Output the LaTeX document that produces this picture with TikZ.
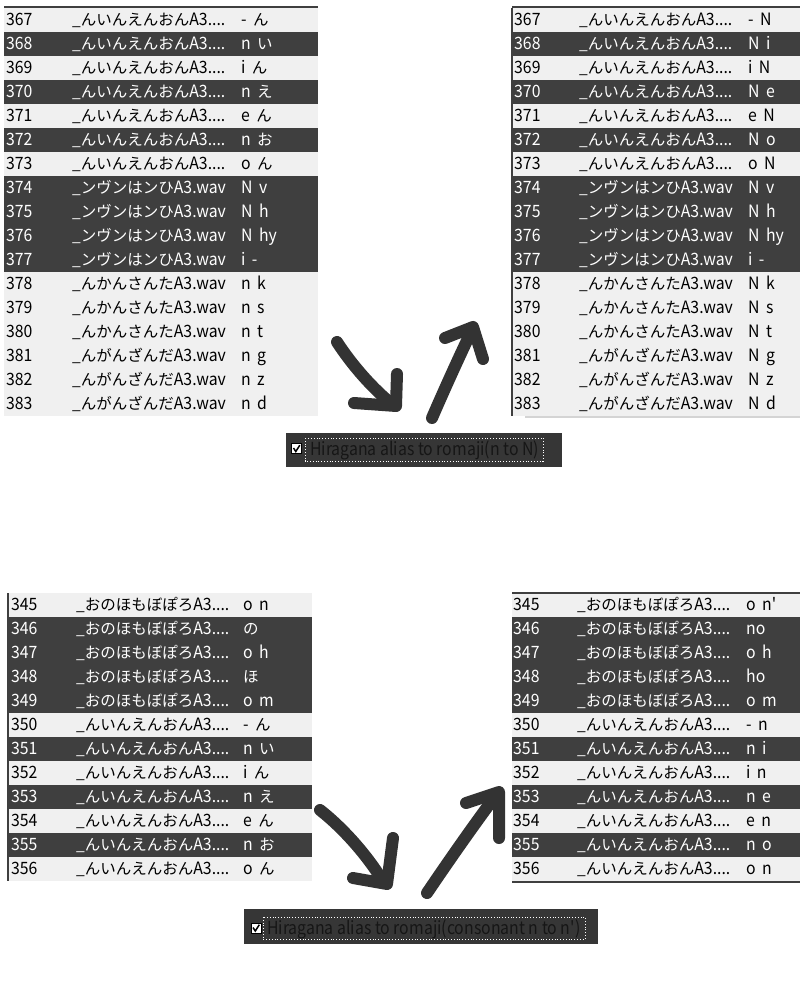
\documentclass[tikz,border=0pt]{standalone}
\usepackage{fontspec}
\setmainfont{Noto Sans CJK JP}
\newfontfamily\latnfont[FakeStretch=0.93,WordSpace=1.8]{Noto Sans CJK JP}
\newfontfamily\cbfont[FakeStretch=0.88]{Noto Sans CJK JP}
\newfontfamily\jpfont{Noto Sans CJK JP}
\newcommand\jp{\jpfont\fontsize{15.5}{16}\selectfont}
\newcommand\fnA{{\jp\_んいんえんおん}A3....}
\newcommand\fnB{{\jp\_ンヴンはンひ}A3.wav}
\newcommand\fnC{{\jp\_んかんさんた}A3.wav}
\newcommand\fnD{{\jp\_んがんざんだ}A3.wav}
\newcommand\fnE{{\jp\_おのほもぼぽろ}A3....}
\definecolor{darkrow}{HTML}{3F3F3F}
\definecolor{lightrow}{HTML}{F0F0F0}
\definecolor{arrowcol}{HTML}{333333}
\definecolor{cbbgcol}{HTML}{363636}
\definecolor{cbtext}{HTML}{161616}
\definecolor{lightline}{HTML}{D4D4D4}
\tikzset{
  rowD/.style={fill=darkrow},
  rowL/.style={fill=lightrow},
  cellbase/.style={inner sep=0pt,anchor=west,font=\latnfont\fontsize{17}{18}\selectfont,text height=12.5pt,text depth=1.5pt},
  cellD/.style={cellbase,text=white},
  cellL/.style={cellbase,text=black},
  stroke/.style={draw=arrowcol,line width=12pt,line cap=round,line join=round},
  cbbg/.style={fill=cbbgcol,draw=none,inner sep=0pt},
  cbox/.style={fill=white,draw=black,line width=0.8pt},
  focus/.style={draw=white,dotted,line width=0.8pt},
  cblabel/.style={text=cbtext,inner sep=0pt,anchor=base west,font=\cbfont\fontsize{18}{18}\selectfont},
}
\newcommand\trow[6]{%
  \pgfmathsetmacro\yt{\Ytop+24*#2}%
  \fill[row#3] (\Xa,\yt) rectangle (\Xb,\yt+24);
  \node[cell#3] (#1n#4) at (\Nx,\yt+12) {#4};
  \node[cell#3] (#1f#4) at (\Fx,\yt+12) {#5};
  \node[cell#3] (#1a#4) at (\Ax,\yt+12) {#6};
}
\begin{document}
\begin{tikzpicture}[x=1pt,y=-1pt]
\useasboundingbox (0,0) rectangle (800,1000);
\fill[white] (0,0) rectangle (800,1000);

% ---------- top left table ----------
\def\Ytop{8}\def\Xa{4}\def\Xb{318}\def\Nx{6}\def\Fx{72}\def\Ax{241}
\trow{tl}{0}{L}{367}{\fnA}{- {\jp ん}}
\trow{tl}{1}{D}{368}{\fnA}{n {\jp い}}
\trow{tl}{2}{L}{369}{\fnA}{i {\jp ん}}
\trow{tl}{3}{D}{370}{\fnA}{n {\jp え}}
\trow{tl}{4}{L}{371}{\fnA}{e {\jp ん}}
\trow{tl}{5}{D}{372}{\fnA}{n {\jp お}}
\trow{tl}{6}{L}{373}{\fnA}{o {\jp ん}}
\trow{tl}{7}{D}{374}{\fnB}{N v}
\trow{tl}{8}{D}{375}{\fnB}{N h}
\trow{tl}{9}{D}{376}{\fnB}{N hy}
\trow{tl}{10}{D}{377}{\fnB}{i -}
\trow{tl}{11}{L}{378}{\fnC}{n k}
\trow{tl}{12}{L}{379}{\fnC}{n s}
\trow{tl}{13}{L}{380}{\fnC}{n t}
\trow{tl}{14}{L}{381}{\fnD}{n g}
\trow{tl}{15}{L}{382}{\fnD}{n z}
\trow{tl}{16}{L}{383}{\fnD}{n d}
\fill[darkrow] (4,6) rectangle (318,8);

% ---------- top right table ----------
\def\Ytop{8}\def\Xa{512}\def\Xb{800}\def\Nx{514}\def\Fx{579}\def\Ax{748}
\trow{tr}{0}{L}{367}{\fnA}{- N}
\trow{tr}{1}{D}{368}{\fnA}{N i}
\trow{tr}{2}{L}{369}{\fnA}{i N}
\trow{tr}{3}{D}{370}{\fnA}{N e}
\trow{tr}{4}{L}{371}{\fnA}{e N}
\trow{tr}{5}{D}{372}{\fnA}{N o}
\trow{tr}{6}{L}{373}{\fnA}{o N}
\trow{tr}{7}{D}{374}{\fnB}{N v}
\trow{tr}{8}{D}{375}{\fnB}{N h}
\trow{tr}{9}{D}{376}{\fnB}{N hy}
\trow{tr}{10}{D}{377}{\fnB}{i -}
\trow{tr}{11}{L}{378}{\fnC}{N k}
\trow{tr}{12}{L}{379}{\fnC}{N s}
\trow{tr}{13}{L}{380}{\fnC}{N t}
\trow{tr}{14}{L}{381}{\fnD}{N g}
\trow{tr}{15}{L}{382}{\fnD}{N z}
\trow{tr}{16}{L}{383}{\fnD}{N d}
\fill[darkrow] (512,6) rectangle (800,8);
\fill[darkrow] (511,8) rectangle (513,416);
\fill[lightline] (525,416) rectangle (800,418);

% ---------- bottom left table ----------
\def\Ytop{593}\def\Xa{8}\def\Xb{312}\def\Nx{11}\def\Fx{76}\def\Ax{243}
\trow{bl}{0}{L}{345}{\fnE}{o n}
\trow{bl}{1}{D}{346}{\fnE}{{\jp の}}
\trow{bl}{2}{D}{347}{\fnE}{o h}
\trow{bl}{3}{D}{348}{\fnE}{{\jp ほ}}
\trow{bl}{4}{D}{349}{\fnE}{o m}
\trow{bl}{5}{L}{350}{\fnA}{- {\jp ん}}
\trow{bl}{6}{D}{351}{\fnA}{n {\jp い}}
\trow{bl}{7}{L}{352}{\fnA}{i {\jp ん}}
\trow{bl}{8}{D}{353}{\fnA}{n {\jp え}}
\trow{bl}{9}{L}{354}{\fnA}{e {\jp ん}}
\trow{bl}{10}{D}{355}{\fnA}{n {\jp お}}
\trow{bl}{11}{L}{356}{\fnA}{o {\jp ん}}
\fill[darkrow] (7,593) rectangle (9,881);

% ---------- bottom right table ----------
\def\Ytop{593}\def\Xa{512}\def\Xb{800}\def\Nx{513}\def\Fx{577}\def\Ax{746}
\trow{br}{0}{L}{345}{\fnE}{o n'}
\trow{br}{1}{D}{346}{\fnE}{no}
\trow{br}{2}{D}{347}{\fnE}{o h}
\trow{br}{3}{D}{348}{\fnE}{ho}
\trow{br}{4}{D}{349}{\fnE}{o m}
\trow{br}{5}{L}{350}{\fnA}{- n}
\trow{br}{6}{D}{351}{\fnA}{n i}
\trow{br}{7}{L}{352}{\fnA}{i n}
\trow{br}{8}{D}{353}{\fnA}{n e}
\trow{br}{9}{L}{354}{\fnA}{e n}
\trow{br}{10}{D}{355}{\fnA}{n o}
\trow{br}{11}{L}{356}{\fnA}{o n}
\fill[darkrow] (512,592) rectangle (800,594);
\fill[darkrow] (512,881) rectangle (800,883);

% ---------- top arrows ----------
\draw[stroke] (337,342) .. controls (352,365) and (372,388) .. (393,405);
\draw[stroke] (397,374) -- (396,406) -- (354,403);
\draw[stroke] (432,418) .. controls (445,388) and (460,355) .. (472,330);
\draw[stroke] (445,338) -- (473,327) -- (483,359);

% ---------- top checkbox ----------
\node[cbbg,minimum width=276pt,minimum height=34pt] (cb1) at (424,450) {};
\draw[cbox] (291.5,443.5) rectangle (301.5,453.5);
\draw[black,line width=1.5pt] (293.5,448) -- (295.8,451.5) -- (299.8,445.2);
\draw[focus] (305,438) rectangle (543,461);
\node[cblabel] (cb1t) at (310,455.5) {Hiragana alias to romaji(n to N)};

% ---------- bottom arrows ----------
\draw[stroke] (320,810) .. controls (343,828) and (368,856) .. (384,883);
\draw[stroke] (393,838) -- (387,884) -- (353,878);
\draw[stroke] (427,893) .. controls (448,862) and (473,826) .. (497,794);
\draw[stroke] (466,803) -- (499,792) -- (499,838);

% ---------- bottom checkbox ----------
\node[cbbg,minimum width=354pt,minimum height=35pt] (cb2) at (421,926.5) {};
\draw[cbox] (251,923) rectangle (261,933);
\draw[black,line width=1.5pt] (253,927.5) -- (255.3,931) -- (259.3,924.7);
\draw[focus] (263,917) rectangle (585,939);
\node[cblabel] (cb2t) at (267,934) {Hiragana alias to romaji(consonant n to n')};
\end{tikzpicture}
\end{document}
